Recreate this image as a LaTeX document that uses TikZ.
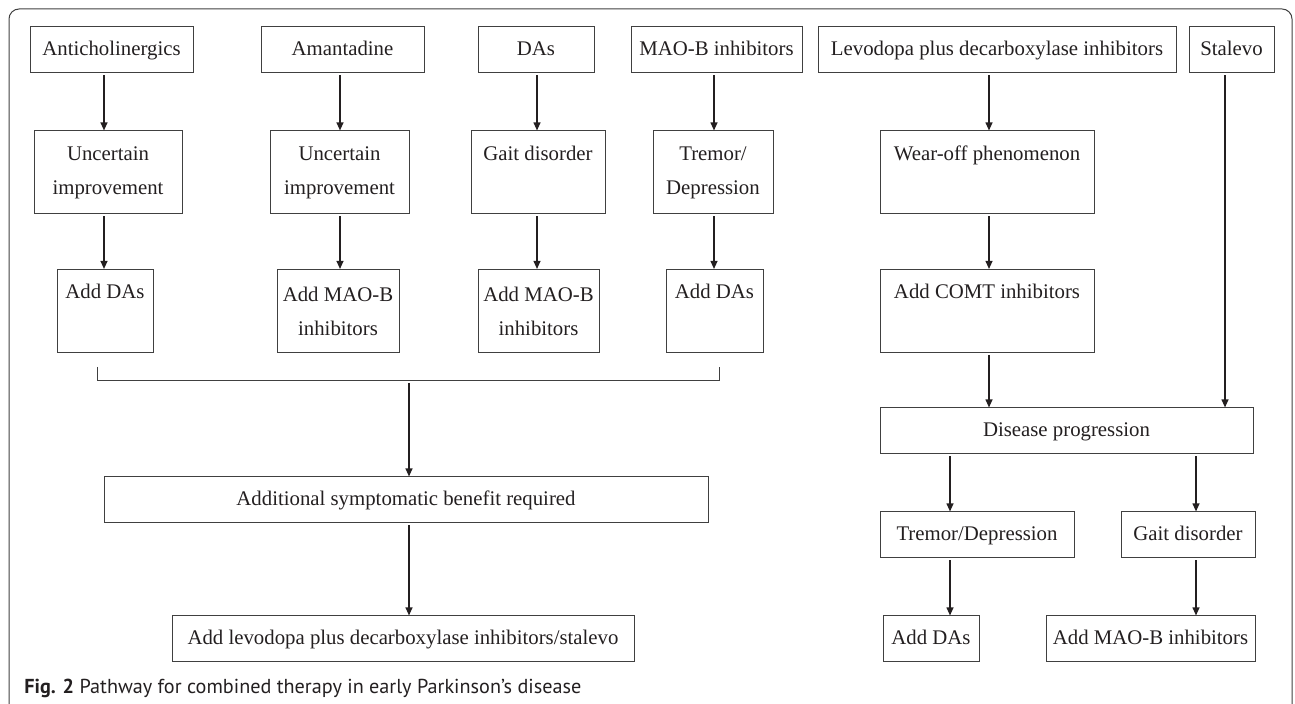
\documentclass[tikz,border=0pt]{standalone}
\usepackage{fontspec}
\setmainfont{Liberation Serif}
\newfontfamily\capfont{PT Sans}
\usetikzlibrary{arrows.meta}
\definecolor{ink}{HTML}{231F20}
\definecolor{rule}{HTML}{404040}

\begin{document}
\begin{tikzpicture}[
x=0.5pt, y=-0.5pt,
box/.style={draw=rule, line width=0.5pt, inner sep=0pt, align=center, text=ink, font=\fontsize{10.4}{17}\selectfont},
low/.style={box, minimum height=23pt, text height=7.5pt, text depth=2pt},
tall/.style={box, minimum height=41.5pt},
arr/.style={draw=ink, line width=0.75pt, -{Triangle[length=4pt,width=3.4pt]}, shorten <=1pt}]
\useasboundingbox (0,0) rectangle (1295,704);
\draw[rule, line width=0.5pt, rounded corners=5pt] (9,720) |- (1292,9) -- (1292,720);

\node[low, minimum width=81.5pt] (anti) at (111.5,50) {Anticholinergics};
\node[low, minimum width=81.5pt] (aman) at (342.5,50) {Amantadine};
\node[low, minimum width=58pt] (das) at (536,50) {DAs};
\node[low, minimum width=85.5pt] (maob) at (716.5,50) {MAO-B inhibitors};
\node[low, minimum width=179pt] (levo) at (997,50) {Levodopa plus decarboxylase inhibitors};
\node[low, minimum width=42.5pt] (stal) at (1231.5,50) {Stalevo};

\node[tall, minimum width=74pt] (unc1) at (108,172.5) {Uncertain\\improvement};
\node[tall, minimum width=69.5pt] (unc2) at (339.5,172.5) {Uncertain\\improvement};
\node[tall, minimum width=67pt] (gait1) at (538,172.5) {Gait disorder\\\vphantom{p}};
\node[tall, minimum width=60pt] (trem1) at (713,172.5) {Tremor/\\Depression};
\node[tall, minimum width=107pt] (wear) at (987,172.5) {Wear-off phenomenon\\\vphantom{p}};

\node[tall, minimum width=48pt] (adda1) at (105,311) {Add DAs\\\vphantom{p}};
\node[tall, minimum width=61pt] (addm1) at (338,311) {Add MAO-B\\inhibitors};
\node[tall, minimum width=60.5pt] (addm2) at (538.5,311) {Add MAO-B\\inhibitors};
\node[tall, minimum width=48.5pt] (adda2) at (714.5,311) {Add DAs\\\vphantom{p}};
\node[tall, minimum width=107pt] (comt) at (987,311) {Add COMT inhibitors\\\vphantom{p}};

\node[low, minimum width=302pt] (addl) at (406,500) {Additional symptomatic benefit required};
\node[low, minimum width=231pt] (final) at (403,639) {Add levodopa plus decarboxylase inhibitors/stalevo};
\node[low, minimum width=186.5pt] (prog) at (1066.5,431) {Disease progression};
\node[low, minimum width=97pt] (trem2) at (977,535) {Tremor/Depression};
\node[low, minimum width=67pt] (gait2) at (1188,535) {Gait disorder};
\node[low, minimum width=48pt] (adda3) at (931,639) {Add DAs};
\node[low, minimum width=104.5pt] (addm3) at (1150.5,639) {Add MAO-B inhibitors};

\node[anchor=west, inner sep=0pt, text=ink, font=\capfont\fontsize{10.1}{12}\selectfont] (cap) at (24,688) {\textbf{Fig. 2} Pathway for combined therapy in early Parkinson’s disease};

\coordinate (c1) at (104,0);
\coordinate (c2) at (340,0);
\coordinate (c3) at (537,0);
\coordinate (c4) at (714,0);
\coordinate (c5) at (989,0);
\coordinate (c6) at (1225,0);
\coordinate (c7) at (950,0);
\coordinate (c8) at (1196,0);
\coordinate (cm) at (409,0);

\draw[arr] (anti.south -| c1) -- (unc1.north -| c1);
\draw[arr] (unc1.south -| c1) -- (adda1.north -| c1);
\draw[arr] (aman.south -| c2) -- (unc2.north -| c2);
\draw[arr] (unc2.south -| c2) -- (addm1.north -| c2);
\draw[arr] (das.south -| c3) -- (gait1.north -| c3);
\draw[arr] (gait1.south -| c3) -- (addm2.north -| c3);
\draw[arr] (maob.south -| c4) -- (trem1.north -| c4);
\draw[arr] (trem1.south -| c4) -- (adda2.north -| c4);

\coordinate (brl) at (97,367);
\coordinate (brr) at (719,367);
\coordinate (brm) at (409,381);
\draw[rule, line width=0.5pt] (brl) -- ++(0,14) -| (brr);
\draw[arr] (brm) -- (addl.north -| brm);
\draw[arr] (addl.south -| cm) -- (final.north -| cm);

\draw[arr] (levo.south -| c5) -- (wear.north -| c5);
\draw[arr] (wear.south -| c5) -- (comt.north -| c5);
\draw[arr] (comt.south -| c5) -- (prog.north -| c5);
\draw[arr] (stal.south -| c6) -- (prog.north -| c6);
\draw[arr] (prog.south -| c7) -- (trem2.north -| c7);
\draw[arr] (prog.south -| c8) -- (gait2.north -| c8);
\draw[arr] (trem2.south -| c7) -- (adda3.north -| c7);
\draw[arr] (gait2.south -| c8) -- (addm3.north -| c8);
\end{tikzpicture}
\end{document}
